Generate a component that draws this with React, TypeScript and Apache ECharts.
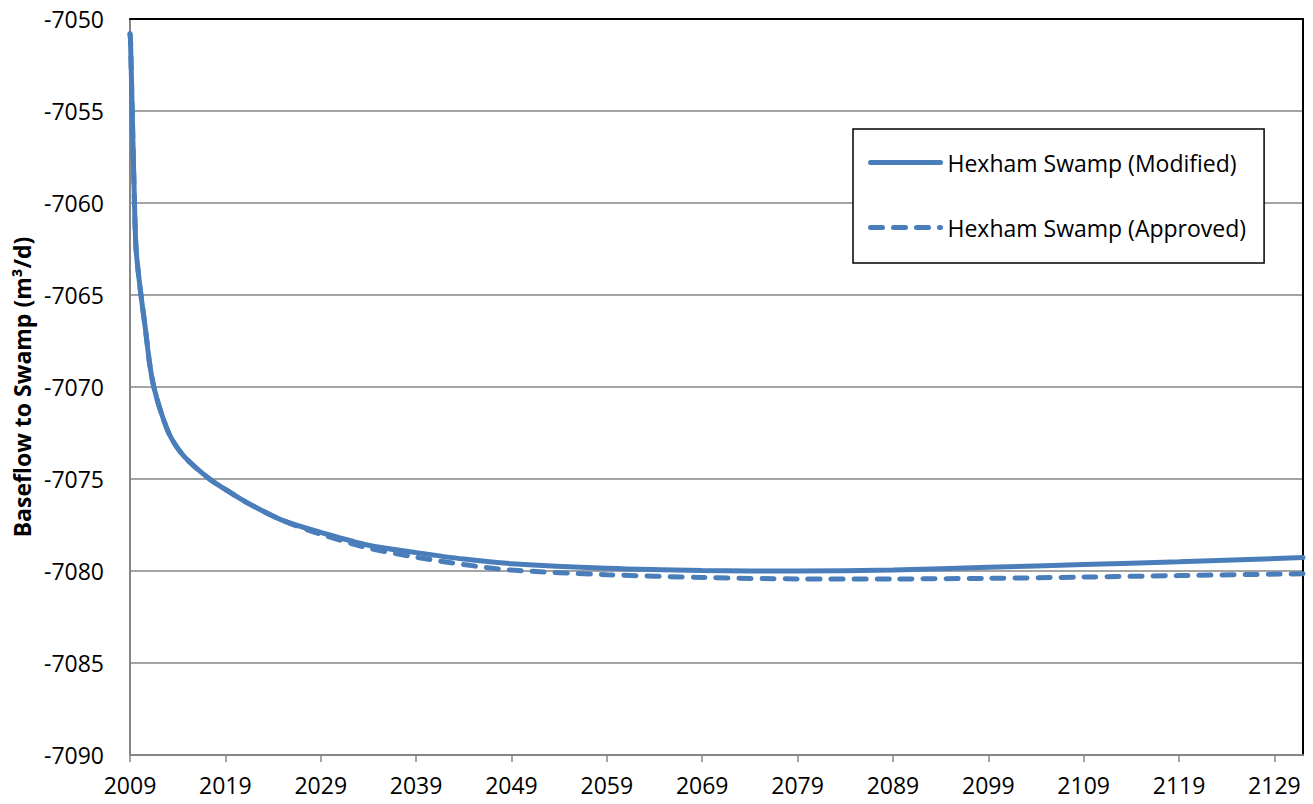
import React, { useEffect, useRef } from "react";
import * as echarts from "echarts";

const yearTicks = [2009, 2019, 2029, 2039, 2049, 2059, 2069, 2079, 2089, 2099, 2109, 2119, 2129];

const modifiedYears = [2009, 2009.05, 2009.23, 2009.47, 2009.65, 2010.15, 2010.63, 2011.05, 2011.5, 2012.27, 2013.25, 2014.72, 2017.34, 2019.26, 2021.5, 2025, 2029, 2034, 2039, 2044, 2049, 2059, 2069, 2079, 2089, 2099, 2109, 2119, 2132];
const modifiedValues = [-7050.8, -7051.1, -7055, -7060, -7062.6, -7065, -7066.9, -7068.7, -7070, -7071.4, -7072.7, -7073.8, -7075, -7075.65, -7076.35, -7077.25, -7077.9, -7078.6, -7079.0, -7079.35, -7079.6, -7079.85, -7079.97, -7080.0, -7079.95, -7079.8, -7079.65, -7079.5, -7079.27];

const approvedYears = [2009, 2009.05, 2009.23, 2009.47, 2009.65, 2010.15, 2010.63, 2011.05, 2011.5, 2012.27, 2013.25, 2014.72, 2017.34, 2019.26, 2021.5, 2025, 2029, 2034, 2039, 2044, 2049, 2059, 2069, 2079, 2089, 2099, 2109, 2119, 2132];
const approvedValues = [-7050.8, -7051.1, -7055, -7060, -7062.6, -7065, -7066.9, -7068.7, -7070, -7071.4, -7072.7, -7073.8, -7075, -7075.65, -7076.35, -7077.25, -7078.0, -7078.75, -7079.25, -7079.65, -7079.95, -7080.2, -7080.35, -7080.43, -7080.43, -7080.4, -7080.33, -7080.25, -7080.15];

const seriesNames = ["Hexham Swamp (Modified)", "Hexham Swamp (Approved)"];
const yAxisTitle = "Baseflow to Swamp (m³/d)";

const FONT = "'Open Sans', 'Noto Sans', sans-serif";
const BLUE = "#4a7ebb";
const GRAY = "#868686";
const DASH = [12, 11];

export default function App() {
  const ref = useRef<HTMLDivElement>(null);
  useEffect(() => {
    if (!ref.current) return;
    const chart = echarts.init(ref.current, undefined, { renderer: "svg" });
    chart.setOption({
      animation: false,
      backgroundColor: "#ffffff",
      grid: { left: 130, top: 19, width: 1173, height: 736, containLabel: false },
      legend: {
        orient: "vertical",
        left: 853,
        top: 129,
        itemWidth: 70,
        itemHeight: 26,
        itemGap: 42,
        padding: [22, 18, 24, 15],
        borderColor: "#000000",
        borderWidth: 1.5,
        backgroundColor: "#ffffff",
        textStyle: { fontFamily: FONT, fontSize: 23, color: "#000000", padding: [0, 0, 0, 2] },
        itemStyle: { opacity: 0 },
        data: [
          { name: seriesNames[0], itemStyle: { opacity: 0 }, lineStyle: { color: BLUE, width: 5, cap: "round", type: "solid" } },
          { name: seriesNames[1], itemStyle: { opacity: 0 }, lineStyle: { color: BLUE, width: 5, cap: "round", type: DASH } },
        ],
      },
      xAxis: [
        {
          type: "value",
          min: 2009,
          max: 2132,
          axisLine: { show: true, lineStyle: { color: GRAY, width: 2 } },
          axisTick: { show: true, length: 7, lineStyle: { color: GRAY, width: 1.5 }, customValues: yearTicks },
          axisLabel: { fontFamily: FONT, fontSize: 23, color: "#000000", margin: 18, customValues: yearTicks, formatter: (v: number) => String(v) },
          splitLine: { show: false },
        },
        {
          type: "value",
          position: "top",
          min: 2009,
          max: 2132,
          axisLine: { show: true, onZero: false, lineStyle: { color: "#000000", width: 2 } },
          axisTick: { show: false },
          axisLabel: { show: false },
          splitLine: { show: false },
        },
      ],
      yAxis: [
        {
          type: "value",
          min: -7090,
          max: -7050,
          interval: 5,
          name: yAxisTitle,
          nameLocation: "middle",
          nameGap: 97,
          nameTextStyle: { fontFamily: FONT, fontSize: 23, fontWeight: "bold", color: "#000000" },
          axisLine: { show: true, onZero: false, lineStyle: { color: GRAY, width: 2 } },
          axisTick: { show: false },
          axisLabel: { fontFamily: FONT, fontSize: 23, color: "#000000", margin: 26, formatter: (v: number) => String(v) },
          splitLine: { show: true, lineStyle: { color: GRAY, width: 1.5 } },
        },
        {
          type: "value",
          position: "right",
          min: -7090,
          max: -7050,
          interval: 5,
          axisLine: { show: true, onZero: false, lineStyle: { color: "#000000", width: 2 } },
          axisTick: { show: false },
          axisLabel: { show: false },
          splitLine: { show: false },
        },
      ],
      series: [
        {
          name: seriesNames[0],
          type: "line",
          xAxisIndex: 0,
          yAxisIndex: 0,
          smooth: 0.3,
          symbol: "none",
          data: modifiedYears.map((y, i) => [y, modifiedValues[i]]),
          lineStyle: { color: BLUE, width: 5, cap: "round" },
          itemStyle: { color: BLUE },
          z: 3,
        },
        {
          name: seriesNames[1],
          type: "line",
          xAxisIndex: 0,
          yAxisIndex: 0,
          smooth: 0.3,
          symbol: "none",
          data: approvedYears.map((y, i) => [y, approvedValues[i]]),
          lineStyle: { color: BLUE, width: 5, type: DASH, cap: "round" },
          itemStyle: { color: BLUE },
          z: 2,
        },
      ],
    });
    return () => chart.dispose();
  }, []);
  return <div ref={ref} style={{ position: "absolute", left: 0, top: 0, width: 1313, height: 804 }} />;
}
